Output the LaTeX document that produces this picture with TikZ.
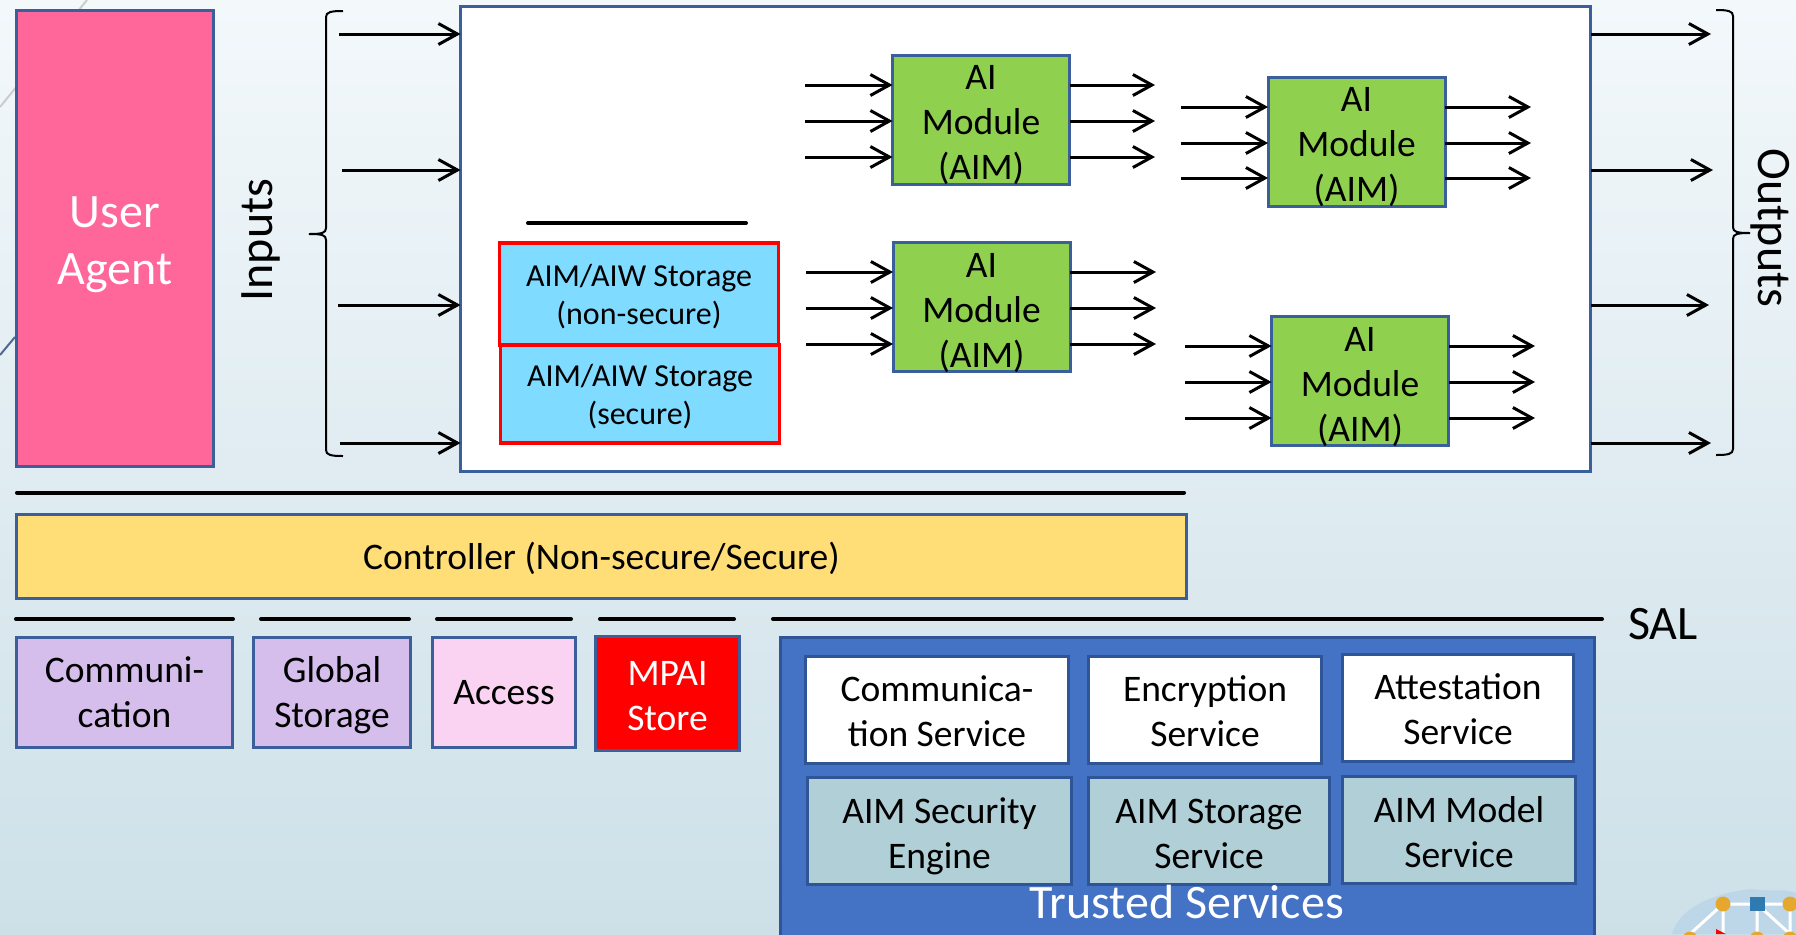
\documentclass[tikz,border=0pt]{standalone}
\usepackage{fontspec}
\setmainfont{Carlito}
\usetikzlibrary{arrows.meta}
\definecolor{edgeblue}{HTML}{3A5F9B}
\definecolor{darkblue}{HTML}{2F5597}
\definecolor{deepblue}{HTML}{4472C4}
\definecolor{pinkfill}{HTML}{FF6699}
\definecolor{aimgreen}{HTML}{8FD14F}
\definecolor{skyfill}{HTML}{7FDBFF}
\definecolor{ctrlfill}{HTML}{FFDD77}
\definecolor{lilac}{HTML}{D5BDEC}
\definecolor{paleviolet}{HTML}{F9D3F1}
\definecolor{tealfill}{HTML}{B1CFD7}
\definecolor{bgtop}{HTML}{F3F8FB}
\definecolor{bgbottom}{HTML}{CDE0E8}
\definecolor{logoblob}{HTML}{BDD7E8}
\definecolor{logodot}{HTML}{E5A72E}
\definecolor{logosquare}{HTML}{2F7AB0}
\begin{document}
\begin{tikzpicture}[x=0.5pt,y=-0.5pt]
\tikzstyle{plate}=[draw=edgeblue, line width=1.5pt, inner sep=0pt, outer sep=0pt, align=center, text depth=0pt, font=\fontsize{18.75}{22.5}\selectfont]
\tikzstyle{aim}=[plate, fill=aimgreen, minimum width=88.5pt, minimum height=64.5pt, text height=60pt]
\tikzstyle{store}=[draw=red, line width=1.8pt, fill=skyfill, inner sep=0pt, outer sep=0pt, align=center, text depth=0pt, minimum width=139.5pt, font=\fontsize{16}{19}\selectfont]
\tikzstyle{lower}=[plate, minimum height=55pt]
\tikzstyle{service}=[plate, draw=darkblue, fill=white, minimum height=53.5pt, text height=37pt]
\tikzstyle{big}=[inner sep=0pt, font=\fontsize{24}{28.5}\selectfont, align=center]
\tikzstyle{flow}=[line width=1.5pt, -{Straight Barb[length=9.5pt,width=10.5pt]}]
\tikzstyle{bar}=[line width=2pt, line cap=round]
\tikzstyle{curly}=[line width=1pt]

\clip (0,0) rectangle (1796,934);
\shade[top color=bgtop, bottom color=bgbottom] (0,0) rectangle (1796,934);
\draw[black!20, line width=1pt] (87,0) -- (0,107);
\draw[edgeblue!70!gray, line width=1pt] (15,337) -- (0,355);

% logo in the corner
\fill[logoblob] (1672,934) .. controls (1680,905) and (1720,892) .. (1752,889) .. controls (1770,892) and (1785,888) .. (1796,893) -- (1796,934) -- cycle;
\draw[white, line width=1.5pt] (1690,934) -- (1723,904) -- (1790,904) (1723,904) -- (1723,934) (1757,904) -- (1757,934) (1757,904) -- (1790,934) (1790,904) -- (1790,934);
\fill[logodot] (1723,904) circle (7.5) (1790,904) circle (7.5) (1690,939) circle (7.5) (1757,939) circle (7.5) (1790,939) circle (7.5);
\fill[logosquare] (1750,897) rectangle (1765,911);
\fill[red] (1716,929) -- (1726,934) -- (1716,934) -- cycle;

\draw (115,238) node[plate, fill=pinkfill, minimum width=98.5pt, minimum height=228pt, text=white, text height=46.5pt, font=\fontsize{24}{28.5}\selectfont] (user) {User\\Agent};
\draw (1025.5,238.5) node[plate, fill=white, minimum width=565pt, minimum height=232.5pt] (main) {};

\draw (260.5,240) node[big, rotate=90] (inputs) {Inputs};
\draw (1770,228) node[big, rotate=-90] (outputs) {Outputs};
\draw (1663,624) node[big] (sal) {SAL};

% braces
\draw[curly] (343,11) .. controls (331,11) and (326,12) .. (326,17) -- (326,228) .. controls (326,233) and (322,234) .. (309,234) .. controls (322,234) and (326,235) .. (326,240) -- (326,450) .. controls (326,455) and (331,456) .. (343,456);
\draw[curly] (1716,10) .. controls (1728,10) and (1733,11) .. (1733,16) -- (1733,227) .. controls (1733,232) and (1737,233) .. (1750,233) .. controls (1737,233) and (1733,234) .. (1733,239) -- (1733,449) .. controls (1733,454) and (1728,455) .. (1716,455);

% inputs and outputs of the workflow
\coordinate (in0) at (339,34); \draw[flow] (in0) -- (main.west |- in0);
\coordinate (in1) at (342,170); \draw[flow] (in1) -- (main.west |- in1);
\coordinate (in2) at (338,305); \draw[flow] (in2) -- (main.west |- in2);
\coordinate (in3) at (340,443); \draw[flow] (in3) -- (main.west |- in3);
\coordinate (out0) at (1711,34); \draw[flow] (main.east |- out0) -- (out0);
\coordinate (out1) at (1713,170); \draw[flow] (main.east |- out1) -- (out1);
\coordinate (out2) at (1709,305); \draw[flow] (main.east |- out2) -- (out2);
\coordinate (out3) at (1711,443); \draw[flow] (main.east |- out3) -- (out3);

\draw (981,119.5) node[aim] (aim0) {AI\\Module\\(AIM)};
\draw (1356.5,141.5) node[aim] (aim1) {AI\\Module\\(AIM)};
\draw (981.5,307) node[aim] (aim2) {AI\\Module\\(AIM)};
\draw (1360,381) node[aim] (aim3) {AI\\Module\\(AIM)};

\coordinate (a0i0) at (805,85); \draw[flow] (a0i0) -- (aim0.west |- a0i0);
\coordinate (a0i1) at (805,121); \draw[flow] (a0i1) -- (aim0.west |- a0i1);
\coordinate (a0i2) at (805,157); \draw[flow] (a0i2) -- (aim0.west |- a0i2);
\coordinate (a0o0) at (1155,85); \draw[flow] (aim0.east |- a0o0) -- (a0o0);
\coordinate (a0o1) at (1155,121); \draw[flow] (aim0.east |- a0o1) -- (a0o1);
\coordinate (a0o2) at (1155,157); \draw[flow] (aim0.east |- a0o2) -- (a0o2);

\coordinate (a1i0) at (1181,107); \draw[flow] (a1i0) -- (aim1.west |- a1i0);
\coordinate (a1i1) at (1181,143); \draw[flow] (a1i1) -- (aim1.west |- a1i1);
\coordinate (a1i2) at (1181,178); \draw[flow] (a1i2) -- (aim1.west |- a1i2);
\coordinate (a1o0) at (1531,107); \draw[flow] (aim1.east |- a1o0) -- (a1o0);
\coordinate (a1o1) at (1531,143); \draw[flow] (aim1.east |- a1o1) -- (a1o1);
\coordinate (a1o2) at (1531,178); \draw[flow] (aim1.east |- a1o2) -- (a1o2);

\coordinate (a2i0) at (806,272); \draw[flow] (a2i0) -- (aim2.west |- a2i0);
\coordinate (a2i1) at (806,308); \draw[flow] (a2i1) -- (aim2.west |- a2i1);
\coordinate (a2i2) at (806,344); \draw[flow] (a2i2) -- (aim2.west |- a2i2);
\coordinate (a2o0) at (1156,272); \draw[flow] (aim2.east |- a2o0) -- (a2o0);
\coordinate (a2o1) at (1156,308); \draw[flow] (aim2.east |- a2o1) -- (a2o1);
\coordinate (a2o2) at (1156,344); \draw[flow] (aim2.east |- a2o2) -- (a2o2);

\coordinate (a3i0) at (1185,346); \draw[flow] (a3i0) -- (aim3.west |- a3i0);
\coordinate (a3i1) at (1185,382); \draw[flow] (a3i1) -- (aim3.west |- a3i1);
\coordinate (a3i2) at (1185,418); \draw[flow] (a3i2) -- (aim3.west |- a3i2);
\coordinate (a3o0) at (1535,346); \draw[flow] (aim3.east |- a3o0) -- (a3o0);
\coordinate (a3o1) at (1535,382); \draw[flow] (aim3.east |- a3o1) -- (a3o1);
\coordinate (a3o2) at (1535,418); \draw[flow] (aim3.east |- a3o2) -- (a3o2);

\draw[bar] (528,223) -- (746,223);
\draw (639,294) node[store, minimum height=51pt] (store0) {AIM/AIW Storage\\(non-secure)};
\draw (640,394) node[store, minimum height=49pt] (store1) {AIM/AIW Storage\\(secure)};

\draw[bar] (17,492.5) -- (1184,492.5);
\draw (601.5,556) node[plate, fill=ctrlfill, minimum width=585pt, minimum height=42pt] (ctrl) {Controller (Non-secure/Secure)};

\draw[bar] (16,619) -- (233,619);
\draw[bar] (261,619) -- (409,619);
\draw[bar] (437,619) -- (571,619);
\draw[bar] (600,619) -- (734,619);
\draw[bar] (773,619) -- (1602,619);

\draw (124.5,692) node[lower, fill=lilac, minimum width=108pt] (comm) {Communi-\\cation};
\draw (332,692) node[lower, fill=lilac, minimum width=78.5pt] (storage) {Global\\Storage};
\draw (504,692) node[lower, fill=paleviolet, minimum width=71.5pt] (access) {Access};
\draw (667.5,693) node[lower, fill=red, text=white, text height=37pt, minimum width=72pt, minimum height=57pt] (mpai) {MPAI\\Store};

\draw (1187.5,800) node[draw=darkblue, line width=1.5pt, fill=deepblue, inner sep=0pt, outer sep=0pt, minimum width=407pt, minimum height=163pt] (trusted) {};
\draw (937,709.5) node[service, minimum width=131.5pt] (s0) {Communica-\\tion Service};
\draw (1205,709.5) node[service, minimum width=116.5pt] (s1) {Encryption\\Service};
\draw (1458,707.5) node[service, minimum width=115.5pt] (s2) {Attestation\\Service};
\draw (939.5,831) node[service, fill=tealfill, minimum width=132pt] (s3) {AIM Security\\Engine};
\draw (1209,831) node[service, fill=tealfill, minimum width=120.5pt] (s4) {AIM Storage\\Service};
\draw (1459,830) node[service, fill=tealfill, minimum width=116.5pt] (s5) {AIM Model\\Service};
\draw (1186.5,902) node[big, text=white] (tslabel) {Trusted Services};
\end{tikzpicture}
\end{document}
